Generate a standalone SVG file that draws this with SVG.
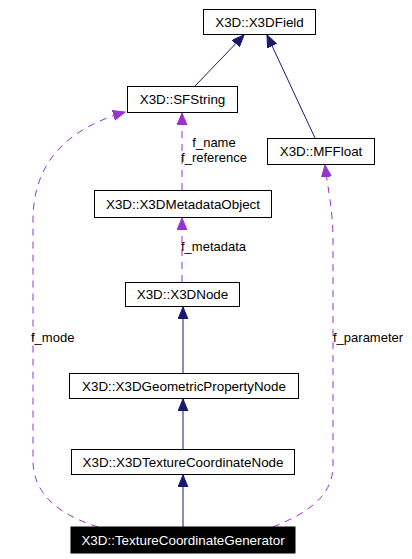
<svg xmlns="http://www.w3.org/2000/svg" width="412" height="559" viewBox="0 0 412 559">
<style>
.box{fill:#fff;stroke:#000;stroke-width:1}
.t{font-family:"Liberation Sans",Arial,sans-serif;font-size:13.4px;text-anchor:middle;fill:#000}
.lbl{font-family:"Liberation Sans",Arial,sans-serif;font-size:13px;fill:#000}
.inh{fill:none;stroke:#191970;stroke-width:1}
.use{fill:none;stroke:#9a32cd;stroke-width:1;stroke-dasharray:7,6}
</style>
<defs>
<marker id="an" markerUnits="userSpaceOnUse" markerWidth="14" markerHeight="12" refX="12" refY="5" orient="auto"><path d="M0,0 L12,5 L0,10 Z" fill="#191970" stroke="#191970"/></marker>
<marker id="ap" markerUnits="userSpaceOnUse" markerWidth="14" markerHeight="12" refX="12" refY="5" orient="auto"><path d="M0,0 L12,5 L0,10 Z" fill="#9a32cd" stroke="#9a32cd"/></marker>
</defs>
<rect width="412" height="559" fill="#fff"/>
<g id="connectors">
<line class="inh" x1="195" y1="86" x2="244" y2="35" marker-end="url(#an)"/>
<line class="inh" x1="315" y1="138" x2="267" y2="35" marker-end="url(#an)"/>
<line class="inh" x1="183" y1="373" x2="183" y2="307" marker-end="url(#an)"/>
<line class="inh" x1="183" y1="449" x2="183" y2="399" marker-end="url(#an)"/>
<line class="inh" x1="183" y1="527" x2="183" y2="475" marker-end="url(#an)"/>
<line class="use" x1="182" y1="190" x2="182" y2="113" marker-end="url(#ap)"/>
<line class="use" x1="182" y1="282" x2="182" y2="218" marker-end="url(#ap)"/>
<path class="use" d="M98,527 C60,515 33,495 33,460 L33,220 C33,160 70,128 125,112" marker-end="url(#ap)"/>
<path class="use" d="M273,527 C310,512 333,495 333,465 L333,240 C333,210 328,190 325,165" marker-end="url(#ap)"/>
<text class="lbl" x="214" y="147" text-anchor="middle">f_name</text>
<text class="lbl" x="214" y="162" text-anchor="middle">f_reference</text>
<text class="lbl" x="181" y="251">f_metadata</text>
<text class="lbl" x="31" y="342">f_mode</text>
<text class="lbl" x="333" y="342">f_parameter</text>
</g>
<g id="X3DField"><rect class="box" x="203.5" y="9.5" width="112" height="25"/><text class="t" x="259.5" y="26.5">X3D::X3DField</text></g>
<g id="SFString"><rect class="box" x="127.5" y="86.5" width="110" height="26"/><text class="t" x="182.5" y="104">X3D::SFString</text></g>
<g id="MFFloat"><rect class="box" x="267.5" y="138.5" width="107" height="26"/><text class="t" x="321" y="156">X3D::MFFloat</text></g>
<g id="X3DMetadataObject"><rect class="box" x="94.5" y="190.5" width="177" height="27"/><text class="t" x="183" y="208.5">X3D::X3DMetadataObject</text></g>
<g id="X3DNode"><rect class="box" x="125.5" y="282.5" width="114" height="24"/><text class="t" x="182.5" y="299">X3D::X3DNode</text></g>
<g id="X3DGeometricPropertyNode"><rect class="box" x="69.5" y="373.5" width="229" height="25"/><text class="t" x="184" y="390.5">X3D::X3DGeometricPropertyNode</text></g>
<g id="X3DTextureCoordinateNode"><rect class="box" x="71.5" y="449.5" width="223" height="25"/><text class="t" x="183" y="466.5">X3D::X3DTextureCoordinateNode</text></g>
<g id="TextureCoordinateGenerator"><rect x="71" y="527" width="224" height="26" fill="#000" stroke="#000"/><text class="t" x="183" y="544.5" style="fill:#fff">X3D::TextureCoordinateGenerator</text></g>
</svg>
